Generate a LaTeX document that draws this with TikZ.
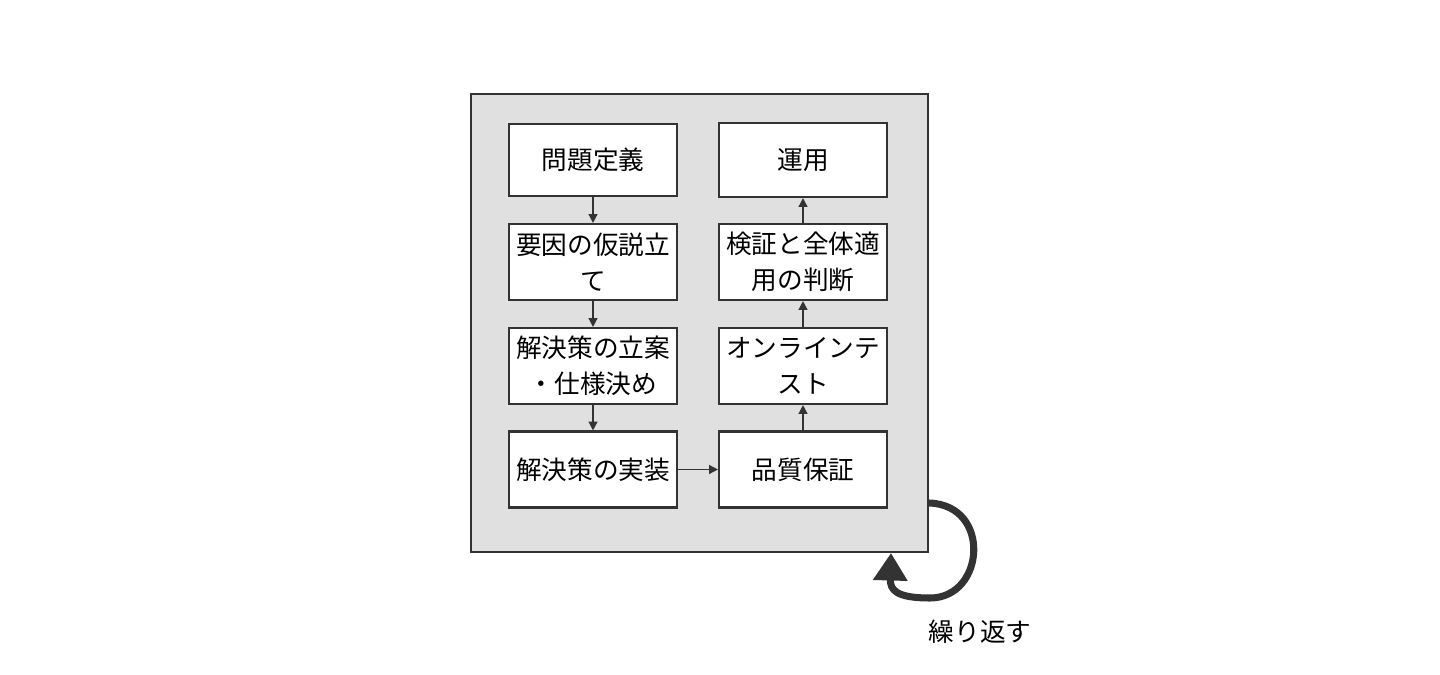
\documentclass[tikz,border=0pt]{standalone}
\usepackage{fontspec}
\setmainfont{Noto Sans CJK JP}
\usetikzlibrary{arrows.meta}
\definecolor{linegray}{HTML}{333333}
\definecolor{panelgray}{HTML}{E0E0E0}
\tikzset{
  stepbox/.style={draw=linegray,fill=white,line width=1.2pt,minimum width=3.36cm,
    minimum height=1.52cm,align=center,inner sep=0pt,font=\fontsize{14.6}{20.4}\selectfont},
  flow/.style={-{Triangle[length=5pt,width=5pt]},draw=linegray,line width=0.8pt},
}
\begin{document}
\begin{tikzpicture}[x=0.02cm,y=-0.02cm]
  \useasboundingbox (0,0) rectangle (1440,675);
  % outer panel
  \node[draw=linegray,fill=panelgray,line width=1.2pt,minimum width=9.14cm,minimum height=9.16cm,inner sep=0pt] (panel) at (699.5,323) {};
  % left column
  \node[stepbox,minimum height=1.44cm] (define) at (593,160) {問題定義};
  \node[stepbox] (hypo) at (593,262) {要因の仮説立\\て};
  \node[stepbox] (plan) at (593,366) {解決策の立案\\・仕様決め};
  \node[stepbox] (impl) at (593,469.5) {解決策の実装};
  % right column
  \node[stepbox,minimum height=1.48cm] (ops) at (803,160) {運用};
  \node[stepbox] (judge) at (803,262) {検証と全体適\\用の判断};
  \node[stepbox] (online) at (803,366) {オンラインテ\\スト};
  \node[stepbox] (qa) at (803,469.5) {品質保証};
  % flow
  \draw[flow] (define) -- (hypo);
  \draw[flow] (hypo) -- (plan);
  \draw[flow] (plan) -- (impl);
  \draw[flow] (impl) -- (qa);
  \draw[flow] (qa) -- (online);
  \draw[flow] (online) -- (judge);
  \draw[flow] (judge) -- (ops);
  % repeat loop
  \coordinate (loopstart) at (929,503);
  \coordinate (loopend) at (891,553);
  \draw[linegray,line width=4pt,-{Triangle[length=0.55cm,width=0.66cm]}]
    (loopstart) .. controls (992,505) and (985,598) .. (930,598)
    .. controls (896,598) and (890,590) .. (loopend);
  \node[font=\fontsize{14.6}{20.4}\selectfont,text=black] (repeat) at (980,632) {繰り返す};
\end{tikzpicture}
\end{document}
